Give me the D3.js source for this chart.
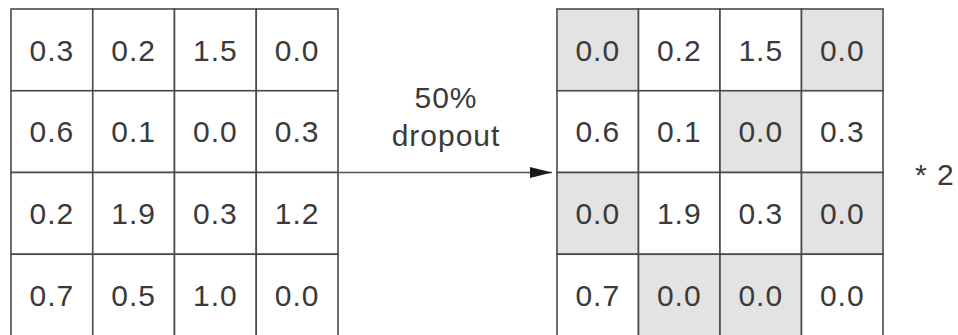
<!DOCTYPE html>
<html>
<head>
<meta charset="utf-8">
<script src="https://cdn.jsdelivr.net/npm/d3@7"></script>
<style>
  body { margin: 0; background: #fff; }
  text { font-family: "Liberation Sans", Arial, sans-serif; fill: #3a3a3a; letter-spacing: 1px; }
</style>
</head>
<body>
<div id="chart"></div>
<script>
// Chart size
const width = 958;
const height = 335;

// Input matrix (before dropout)
const inputValues = [
  [0.3, 0.2, 1.5, 0.0],
  [0.6, 0.1, 0.0, 0.3],
  [0.2, 1.9, 0.3, 1.2],
  [0.7, 0.5, 1.0, 0.0]
];

// Output matrix (after dropout)
const outputValues = [
  [0.0, 0.2, 1.5, 0.0],
  [0.6, 0.1, 0.0, 0.3],
  [0.0, 1.9, 0.3, 0.0],
  [0.7, 0.0, 0.0, 0.0]
];

// 1 = cell dropped (shaded grey)
const droppedMask = [
  [1, 0, 0, 1],
  [0, 0, 1, 0],
  [1, 0, 0, 1],
  [0, 1, 1, 0]
];

const arrowLabel = ["50%", "dropout"];
const scaleLabel = "* 2";

const svg = d3.select("#chart")
  .append("svg")
  .attr("width", width)
  .attr("height", height);

const idx = d3.range(4);

// Row scale shared by both grids
const y = d3.scaleBand().domain(idx).range([9, 336]);

// Column scales for each grid
const xLeft = d3.scaleBand().domain(idx).range([11, 338]);
const xRight = d3.scaleBand().domain(idx).range([557, 883]);

function drawGrid(values, mask, x) {
  const g = svg.append("g");
  const cells = [];
  values.forEach(function(row, r) {
    row.forEach(function(v, c) {
      cells.push({ r: r, c: c, v: v, drop: mask ? mask[r][c] : 0 });
    });
  });

  g.selectAll("rect")
    .data(cells)
    .enter()
    .append("rect")
    .attr("x", d => x(d.c))
    .attr("y", d => y(d.r))
    .attr("width", x.bandwidth())
    .attr("height", y.bandwidth())
    .style("fill", d => d.drop ? "#e3e3e3" : "#fff")
    .style("stroke", "#4a4a4a")
    .style("stroke-width", 1.6);

  g.selectAll("text")
    .data(cells)
    .enter()
    .append("text")
    .attr("x", d => x(d.c) + x.bandwidth() / 2)
    .attr("y", d => y(d.r) + y.bandwidth() / 2)
    .attr("dy", "0.36em")
    .attr("text-anchor", "middle")
    .style("font-size", "30px")
    .text(d => d.v.toFixed(1));
}

drawGrid(inputValues, null, xLeft);
drawGrid(outputValues, droppedMask, xRight);

// Arrow between the grids
const arrowY = y(2);
svg.append("defs").append("marker")
  .attr("id", "head")
  .attr("viewBox", "0 0 22 11")
  .attr("refX", 22)
  .attr("refY", 5.5)
  .attr("markerWidth", 22)
  .attr("markerHeight", 11)
  .attr("markerUnits", "userSpaceOnUse")
  .attr("orient", "auto")
  .append("path")
  .attr("d", "M0,0 L22,5.5 L0,11 Z")
  .style("fill", "#1a1a1a");

svg.append("line")
  .attr("x1", xLeft.range()[1])
  .attr("x2", 552)
  .attr("y1", arrowY)
  .attr("y2", arrowY)
  .style("stroke", "#555")
  .style("stroke-width", 1.6)
  .attr("marker-end", "url(#head)");

// Arrow label
svg.selectAll(".arrow-label")
  .data(arrowLabel)
  .enter()
  .append("text")
  .attr("class", "arrow-label")
  .attr("x", 446)
  .attr("y", (d, i) => 108 + i * 38)
  .attr("text-anchor", "middle")
  .style("font-size", "30px")
  .text(d => d);

// Scale factor note
svg.append("text")
  .attr("x", 915)
  .attr("y", 185)
  .style("font-size", "30px")
  .text(scaleLabel);
</script>
</body>
</html>
